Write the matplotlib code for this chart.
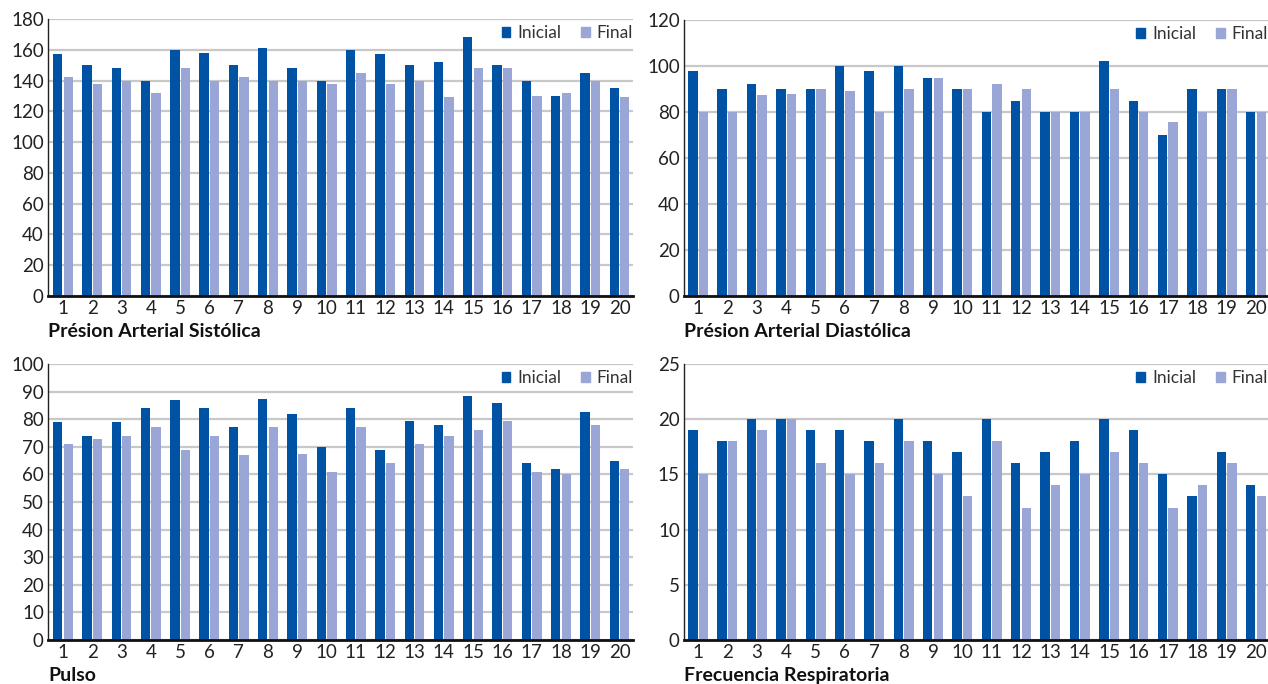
import matplotlib
matplotlib.use("Agg")
import matplotlib.pyplot as plt
import numpy as np
from matplotlib.patches import Patch

patients = [str(i) for i in range(1, 21)]

sist_inicial = [157, 150, 148, 140, 160, 158, 150, 161, 148, 140, 160, 157, 150, 152, 168, 150, 140, 130, 145, 135]
sist_final = [142, 138, 140, 132, 148, 140, 142, 140, 140, 138, 145, 138, 140, 129, 148, 148, 130, 132, 140, 129]

diast_inicial = [98, 90, 92, 90, 90, 100, 98, 100, 95, 90, 80, 85, 80, 80, 102, 85, 70, 90, 90, 80]
diast_final = [80, 80, 87.5, 88, 90, 89, 80, 90, 95, 90, 92, 90, 80, 80, 90, 80, 75.5, 80, 90, 80]

pulso_inicial = [79, 74, 79, 84, 87, 84, 77, 87.5, 82, 70, 84, 69, 79.5, 78, 88.5, 86, 64, 62, 82.5, 65]
pulso_final = [71, 73, 74, 77, 69, 74, 67, 77, 67.5, 61, 77, 64, 71, 74, 76, 79.5, 61, 60, 78, 62]

resp_inicial = [19, 18, 20, 20, 19, 19, 18, 20, 18, 17, 20, 16, 17, 18, 20, 19, 15, 13, 17, 14]
resp_final = [15, 18, 19, 20, 16, 15, 16, 18, 15, 13, 18, 12, 14, 15, 17, 16, 12, 14, 16, 13]

titles = ["Présion Arterial Sistólica", "Présion Arterial Diastólica", "Pulso", "Frecuencia Respiratoria"]
ylims = [180, 120, 100, 25]
ysteps = [20, 20, 10, 5]
series = [(sist_inicial, sist_final), (diast_inicial, diast_final),
          (pulso_inicial, pulso_final), (resp_inicial, resp_final)]

c_ini = "#0052a5"
c_fin = "#99a6d6"
plt.rcParams['font.family'] = ['Lato', 'DejaVu Sans']

fig = plt.figure(figsize=(12.68, 6.84), dpi=100)
W, H = 1268, 684
positions = [
    [48/W, 1-296/H, (633-48)/W, (296-19)/H],
    [684/W, 1-296/H, (1268-684)/W, (296-20)/H],
    [48/W, 1-640/H, (633-48)/W, (640-364)/H],
    [684/W, 1-640/H, (1268-684)/W, (640-364)/H],
]
xlims = [(-0.51, 19.46), (-0.48, 19.41), (-0.51, 19.46), (-0.48, 19.41)]

x = np.arange(len(patients))
bw = 0.32
off = 0.18
for pos, xl, title, ymax, step, (ini, fin) in zip(positions, xlims, titles, ylims, ysteps, series):
    ax = fig.add_axes(pos)
    ax.bar(x - off, ini, width=bw, color=c_ini, zorder=3)
    ax.bar(x + off, fin, width=bw, color=c_fin, zorder=3)
    ax.set_xlim(*xl)
    ax.set_ylim(0, ymax)
    ax.set_yticks(np.arange(0, ymax + 0.1, step))
    ax.set_xticks(x)
    ax.set_xticklabels(patients)
    ax.yaxis.grid(True, color="#c8c8c8", linewidth=1.6, zorder=0)
    ax.set_axisbelow(True)
    for s in ["top", "right"]:
        ax.spines[s].set_visible(False)
    ax.spines["left"].set_color("#222222")
    ax.spines["left"].set_linewidth(1.0)
    ax.spines["bottom"].set_color("#111111")
    ax.spines["bottom"].set_linewidth(2.0)
    ax.spines["bottom"].set_zorder(4)
    ax.tick_params(axis="both", length=0, labelsize=13.5, colors="#222222")
    ax.tick_params(axis="y", pad=3)
    ax.tick_params(axis="x", pad=3)
    ax.set_xlabel(title, fontsize=14, fontweight="bold", loc="left", labelpad=4, color="#111111")
    handles = [Patch(color=c_ini, label="Inicial"), Patch(color=c_fin, label="Final")]
    ax.legend(handles=handles, loc="upper right", bbox_to_anchor=(1.015, 1.01), frameon=False, ncol=2,
              fontsize=12.5, handlelength=0.5, handleheight=0.5, handletextpad=0.4, columnspacing=1.15,
              borderaxespad=0.1, labelcolor="#333333")

fig.savefig("out.png", dpi=100)
